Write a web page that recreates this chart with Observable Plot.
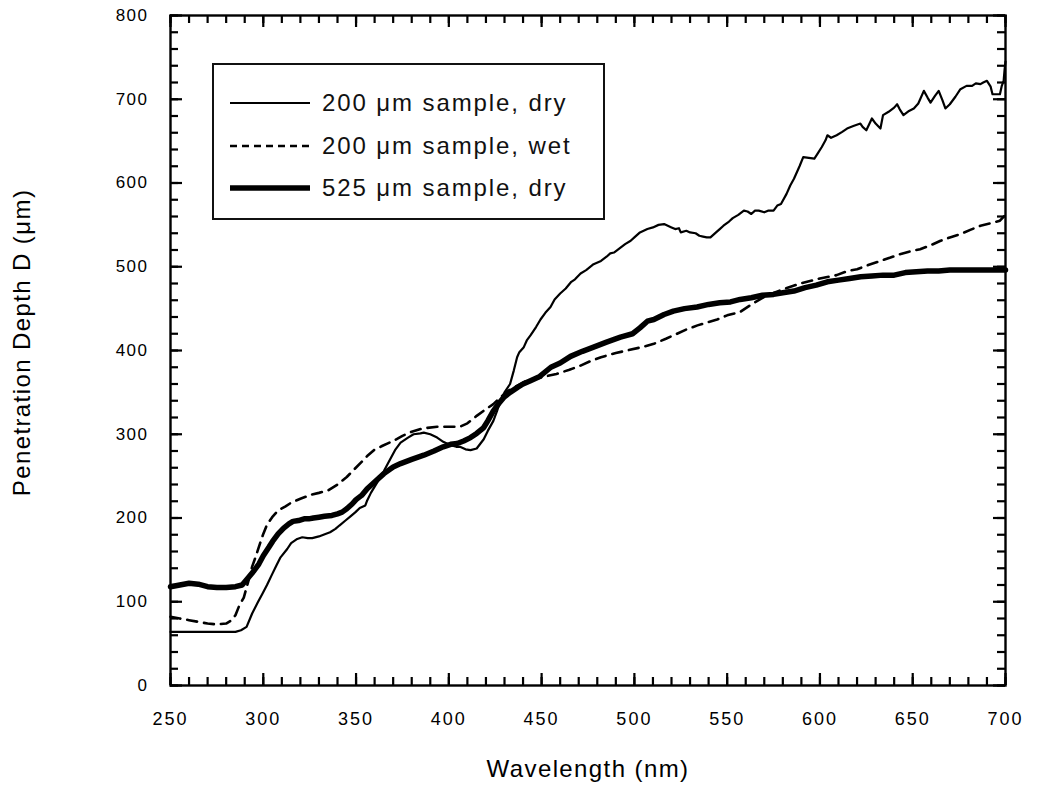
<!DOCTYPE html>
<html>
<head>
<meta charset="utf-8">
<script src="https://cdn.jsdelivr.net/npm/d3@7"></script>
<script src="https://cdn.jsdelivr.net/npm/@observablehq/plot@0.6"></script>
<style>
  body { margin: 0; background: #fff; }
  #wrap { position: relative; width: 1038px; height: 800px; font-family: "Liberation Sans", Arial, Helvetica, sans-serif; }
  g[aria-label="x-axis tick label"] text { letter-spacing: 2px; }
  g[aria-label="y-axis tick label"] text { letter-spacing: 1.5px; }
  g[aria-label="text"] text { letter-spacing: 1.4px; }
  #legend { position: absolute; left: 212px; top: 63px; width: 389px; height: 153px; border: 2px solid #111; background: #fff; }
  #legend .row { position: absolute; left: 16px; height: 30px; display: flex; align-items: center; }
  #legend .row span { font-size: 24px; letter-spacing: 1.9px; color: #111; margin-left: 12px; white-space: nowrap; }
</style>
</head>
<body>
<div id="wrap">
  <div id="chart"></div>
  <div id="legend"></div>
</div>
<script>
// ---- data ----
const seriesNames = ["200 μm sample, dry", "200 μm sample, wet", "525 μm sample, dry"];

const wlDry200 = [250,260,270,280,285,288,291,294,297,299.4,302,304.8,307,309.3,312.9,315,318.3,321,324,326.4,330,333.5,336,338.9,341,344.3,347,349.7,352,355,356,358,361,365,368.6,371,374,378,381,384.7,386.5,390,393.7,397,401,404,406,409,411.7,415,418.8,421,424,426,427.8,430,433,435,436.8,438,440.4,442,444,447,449.4,452,454.8,457,460,463,466,468,471,474,478,482,485,487,489,492,495,498,500,503,505,507,510,513,516,518,520,522,524,525,528,530,533,535,537,539,541,544,546,548,551,553,556,559,561,563,565,567,570,572,575,577,579,582,584,586,589,591,594,597,599,601,603,604,606,609,612,614.6,618,621.8,623,625,628,630,632.6,634,637,640,641.6,643,645,648,650.6,653,656,658,659.6,662,664,666,667.6,670,673,675.7,679,682,684,686.5,688,690,692,693,695,697,698,699,699.5,700];
const dDry200 = [64,64,64,64,64,66,70,86,99,109,120,133,143,153,163,170,175,177,176,176,178,181,183,187,191,197,202,207,212,215,221,230,241,256,271,281,290,296,300,301,302,300,296,291,287,285,285,282,281,283,294,304,316,328,340,350,360,376,392,398,404,412,418,428,437,445,452,461,468,474,482,485,492,496,503,507,512,516,517,522,527,531,535,541,543,545,547,550,551,549,547,545,546,541,543,541,540,537,536,535,535,541,545,549,554,558,562,567,566,563,567,567,565,567,567,573,575,587,597,605,620,631,630,629,636,643,651,657,654,657,661,665,668,671,667,663,677,671,665,681,685,690,694,688,681,686,689,695,710,702,696,704,710,699,689,694,703,712,716,716,719,718,720,722,715,706,706,706,716,722,735,745];

const wlWet200 = [250,255,260,265,270,275,280,283,285,287,289.5,292,294,295.8,298,300,302,304.8,308,312,315.6,320,326,330,335,340,345,349,353,356,359.6,364,370,375,380,386,393.7,400,406,410,415,420,424,427.8,432,437,442,450,458,465,471,476,482,490,496,504,510.5,517,523,528,534,540,544.6,550,557,563,571.6,580,589.5,600,609,615,620,626,632.6,638,643,648,654,660,665,670,675.7,681,686.5,692,697,700];
const dWet200 = [82,80,78,76,74,73,74,78,84,95,105,125,142,153,168,181,192,201,209,214,219,223,228,230,233,240,249,258,267,274,281,286,292,298,303,307,309,309,309,313,322,330,336,344,352,358,364,368,372,377,382,387,392,397,400,404,408,414,420,425,430,434,437,442,446,455,466,473,480,486,490,495,497,502,507,511,515,518,521,526,531,535,539,544,549,552,555,562];

const wlDry525 = [250,255,260,265,270,275,280,285,288.6,292,295,297.6,300,303,305,308,311,313.8,316,319,322,324.5,327,330,333,337,340,342.5,345,348,350,353,356,360,365,370,374,380,386.5,392,397,401,404.5,408,411.7,415,418.8,421,424,427,429.6,433,437,440,444,449,455,460,465.6,472,478,485,492.5,499,503,507,510.5,516,521,527,533.8,540,546,551.8,557,563,569,575,580,586,592,598,604,610,616,622,628,634,640,646,652,658,664,670,676,685,700];
const dDry525 = [118,120,122,121,118,117,117,118,120,129,137,145,155,165,172,181,188,193,196,197,199,199,200,201,202,203,205,207,211,217,222,227,235,243,253,261,265,270,275,280,285,288,289,292,296,301,308,316,328,337,344,350,356,360,364,369,380,385,393,399,404,410,416,420,427,435,437,443,447,450,452,455,457,458,461,463,466,467,469,471,475,478,482,484,486,488,489,490,490,493,494,495,495,496,496,496,496];

const xMajorTicks = [250,300,350,400,450,500,550,600,650,700];
const xMinorTicks = d3.range(250, 701, 10);
const yMajorTicks = [0,100,200,300,400,500,600,700,800];
const yMinorTicks = d3.range(0, 801, 20);
const xTitle = "Wavelength (nm)";
const yTitle = "Penetration Depth D (μm)";

// ---- build tables ----
const rows = (wl, d) => wl.map((w, i) => ({wl: w, d: d[i]}));
const dry200 = rows(wlDry200, dDry200);
const wet200 = rows(wlWet200, dWet200);
const dry525 = rows(wlDry525, dDry525);

const ink = "black";
const F = "Liberation Sans, Arial, sans-serif";
const W = 1038, H = 800, ML = 170, MR = 33, MT = 15, MB = 115;
const PW = W - ML - MR, PH = H - MT - MB;   // frame size in pixels
const MAJ = 12, MIN = 8;
const tw = {stroke: ink, strokeWidth: 2.2};
// inward tick stubs: a tick spans the frame, insets trim it to a short stub at one edge
const ticksBottom = (v, len) => Plot.tickX(v, {x: d => d, insetTop: PH - len, ...tw});
const ticksTop = (v, len) => Plot.tickX(v, {x: d => d, insetBottom: PH - len, ...tw});
const ticksLeft = (v, len) => Plot.tickY(v, {y: d => d, insetRight: PW - len, ...tw});
const ticksRight = (v, len) => Plot.tickY(v, {y: d => d, insetLeft: PW - len, ...tw});

const chart = Plot.plot({
  width: W,
  height: H,
  marginLeft: ML,
  marginRight: MR,
  marginTop: MT,
  marginBottom: MB,
  x: {domain: [250, 700]},
  y: {domain: [0, 800]},
  marks: [
    // inward ticks on all four sides
    ticksBottom(xMajorTicks, MAJ), ticksBottom(xMinorTicks, MIN),
    ticksTop(xMajorTicks, MAJ), ticksTop(xMinorTicks, MIN),
    ticksLeft(yMajorTicks, MAJ), ticksLeft(yMinorTicks, MIN),
    ticksRight(yMajorTicks, MAJ), ticksRight(yMinorTicks, MIN),
    Plot.line(dry200, {x: "wl", y: "d", stroke: ink, strokeWidth: 2.2, strokeLinejoin: "round"}),
    Plot.line(wet200, {x: "wl", y: "d", stroke: ink, strokeWidth: 2.6, strokeDasharray: "10,7"}),
    Plot.line(dry525, {x: "wl", y: "d", stroke: ink, strokeWidth: 5.5, strokeLinejoin: "round"}),
    Plot.axisX(xMajorTicks, {anchor: "bottom", tickSize: 0, tickPadding: 27, fontSize: 18, label: null, fill: ink, fontFamily: F}),
    Plot.axisY(yMajorTicks, {anchor: "left", tickSize: 0, tickPadding: 22, fontSize: 17, label: null, fill: ink, fontFamily: F}),
    Plot.frame({stroke: ink, strokeWidth: 2.4}),
    Plot.text([xTitle], {frameAnchor: "bottom", dy: 91, fontSize: 24, fill: ink, fontFamily: F}),
    Plot.text([yTitle], {frameAnchor: "left", textAnchor: "middle", dx: -148, dy: -8, rotate: -90, fontSize: 24, fill: ink, fontFamily: F})
  ]
});
document.getElementById("chart").appendChild(chart);

// ---- legend (inside plot area, upper left) ----
const legendStyles = [
  {w: 2.2, dash: null},
  {w: 2.6, dash: "7,5"},
  {w: 5.5, dash: null}
];
const legend = d3.select("#legend");
seriesNames.forEach((name, i) => {
  const row = legend.append("div").attr("class", "row").style("top", (23 + i * 42.5) + "px");
  const s = row.append("svg").attr("width", 80).attr("height", 30);
  s.append("line").attr("x1", 0).attr("x2", 80).attr("y1", 15).attr("y2", 15)
    .attr("stroke", ink).attr("stroke-width", legendStyles[i].w)
    .attr("stroke-dasharray", legendStyles[i].dash);
  row.append("span").text(name);
});
</script>
</body>
</html>
